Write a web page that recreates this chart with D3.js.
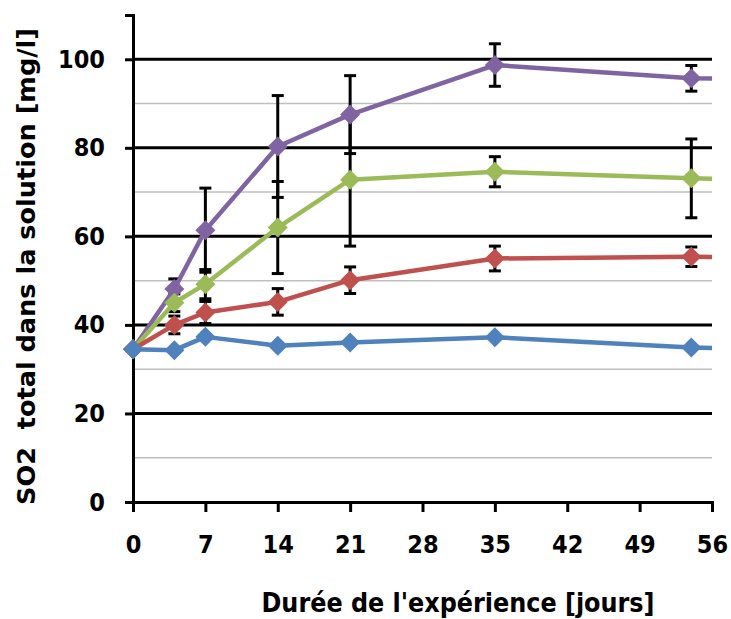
<!DOCTYPE html>
<html lang="fr">
<head>
<meta charset="UTF-8">
<title>SO2 total dans la solution</title>
<script src="https://d3js.org/d3.v7.min.js"></script>
<style>
    body { margin: 0; padding: 0; background: #fff; }
    svg { display: block; }
    .tick-label { font-family: "DejaVu Sans Condensed", "DejaVu Sans", sans-serif; font-stretch: condensed; font-weight: bold; fill: #000; }
</style>
</head>
<body>
<svg width="731" height="619"></svg>
<script>
// jours de mesure (le dernier point est hors cadre, la ligne est coupée à 56)
const days = [0, 4, 7, 14, 21, 35, 54, 63];

const blueVals   = [34.5, 34.3, 37.3, 35.3, 36.0, 37.2, 34.9, 34.3];
const redVals    = [34.5, 40.0, 42.8, 45.2, 50.1, 55.0, 55.4, 55.2];
const greenVals  = [34.5, 45.0, 49.2, 62.0, 72.8, 74.6, 73.1, 72.6];
const purpleVals = [34.5, 48.1, 61.4, 80.3, 87.5, 98.7, 95.7, 95.6];

const blueErr   = [0, 0, 0, 0, 0, 0, 0, 0];
const redErr    = [0, 2.0, 2.5, 3.0, 3.0, 2.8, 2.2, 0];
const greenErr  = [0, 2.0, 3.3, 10.4, 15.0, 3.4, 8.9, 0];
const purpleErr = [0, 2.3, 9.5, 11.5, 8.8, 4.8, 2.9, 0];

const xTicks = [0, 7, 14, 21, 28, 35, 42, 49, 56];
const yMajor = [0, 20, 40, 60, 80, 100];
const yMinor = [10, 30, 50, 70, 90];

const series = [
    {name: "série 1", color: "#4F81BD", values: blueVals, err: blueErr},
    {name: "série 2", color: "#C0504D", values: redVals, err: redErr},
    {name: "série 3", color: "#9BBB59", values: greenVals, err: greenErr},
    {name: "série 4", color: "#8064A2", values: purpleVals, err: purpleErr}
];

const svg = d3.select("svg");
const m = {left: 133, right: 712, top: 15, bottom: 502};

const x = d3.scaleLinear().domain([0, 56]).range([m.left, m.right]);
const y = d3.scaleLinear().domain([0, 110]).range([m.bottom, m.top]);

svg.append("defs").append("clipPath").attr("id", "plot")
   .append("rect")
   .attr("x", m.left - 12).attr("y", 0)
   .attr("width", m.right - m.left + 12).attr("height", m.bottom + 12);

// quadrillage secondaire
svg.append("g").selectAll("line").data(yMinor).join("line")
   .attr("x1", m.left).attr("x2", m.right)
   .attr("y1", d => y(d)).attr("y2", d => y(d))
   .attr("stroke", "#bfbfbf").attr("stroke-width", 1.5);

// quadrillage principal
svg.append("g").selectAll("line").data(yMajor.filter(d => d > 0)).join("line")
   .attr("x1", m.left).attr("x2", m.right)
   .attr("y1", d => y(d)).attr("y2", d => y(d))
   .attr("stroke", "#000").attr("stroke-width", 3);

// axe Y
const yAxis = svg.append("g")
   .attr("transform", `translate(${m.left},0)`)
   .call(d3.axisLeft(y).tickValues(yMajor).tickSize(8).tickPadding(20));
yAxis.select(".domain").attr("stroke-width", 3);
yAxis.selectAll(".tick line").attr("stroke-width", 3);
yAxis.selectAll(".tick text").attr("class", "tick-label").style("font-size", "25px");

// axe X
const xAxis = svg.append("g")
   .attr("transform", `translate(0,${m.bottom})`)
   .call(d3.axisBottom(x).tickValues(xTicks).tickSize(10).tickPadding(23));
xAxis.select(".domain").attr("stroke-width", 3);
xAxis.selectAll(".tick line").attr("stroke-width", 3);
xAxis.selectAll(".tick text").attr("class", "tick-label").style("font-size", "25px");

const plot = svg.append("g").attr("clip-path", "url(#plot)");

// barres d'erreur (sous les courbes)
series.forEach(s => {
    const pts = days.map((d, i) => ({day: d, v: s.values[i], e: s.err[i]})).filter(p => p.e > 0);
    const g = plot.append("g").attr("stroke", "#000").attr("stroke-width", 3);
    g.selectAll(".bar").data(pts).join("line")
     .attr("x1", p => x(p.day)).attr("x2", p => x(p.day))
     .attr("y1", p => y(p.v - p.e)).attr("y2", p => y(p.v + p.e));
    g.selectAll(".capT").data(pts).join("line")
     .attr("x1", p => x(p.day) - 6).attr("x2", p => x(p.day) + 6)
     .attr("y1", p => y(p.v + p.e)).attr("y2", p => y(p.v + p.e));
    g.selectAll(".capB").data(pts).join("line")
     .attr("x1", p => x(p.day) - 6).attr("x2", p => x(p.day) + 6)
     .attr("y1", p => y(p.v - p.e)).attr("y2", p => y(p.v - p.e));
});

// courbes et marqueurs, violet en dessous, bleu au-dessus
const line = d3.line().x(p => x(p.day)).y(p => y(p.v));
const diamond = d3.symbol().type(d3.symbolSquare).size(200);

series.slice().reverse().forEach(s => {
    const pts = days.map((d, i) => ({day: d, v: s.values[i]}));
    plot.append("path").datum(pts)
        .attr("d", line)
        .attr("fill", "none")
        .attr("stroke", s.color)
        .attr("stroke-width", 4.5)
        .attr("stroke-linejoin", "round");
    plot.append("g").selectAll("path").data(pts).join("path")
        .attr("d", diamond)
        .attr("transform", p => `translate(${x(p.day)},${y(p.v)}) rotate(45)`)
        .attr("fill", s.color);
});

// titres des axes
svg.append("text")
   .attr("x", 458).attr("y", 612)
   .attr("text-anchor", "middle")
   .attr("class", "tick-label")
   .attr("textLength", 393)
   .attr("lengthAdjust", "spacingAndGlyphs")
   .style("font-size", "26px")
   .text("Durée de l'expérience [jours]");

svg.append("text")
   .attr("transform", `translate(35,266.5) rotate(-90)`)
   .attr("text-anchor", "middle")
   .attr("textLength", 477)
   .attr("lengthAdjust", "spacingAndGlyphs")
   .style("font-family", "'DejaVu Sans', Verdana, sans-serif")
   .style("font-weight", "bold")
   .style("font-size", "25px")
   .style("white-space", "pre")
   .text("SO2  total dans la solution [mg/l]");
</script>
</body>
</html>
